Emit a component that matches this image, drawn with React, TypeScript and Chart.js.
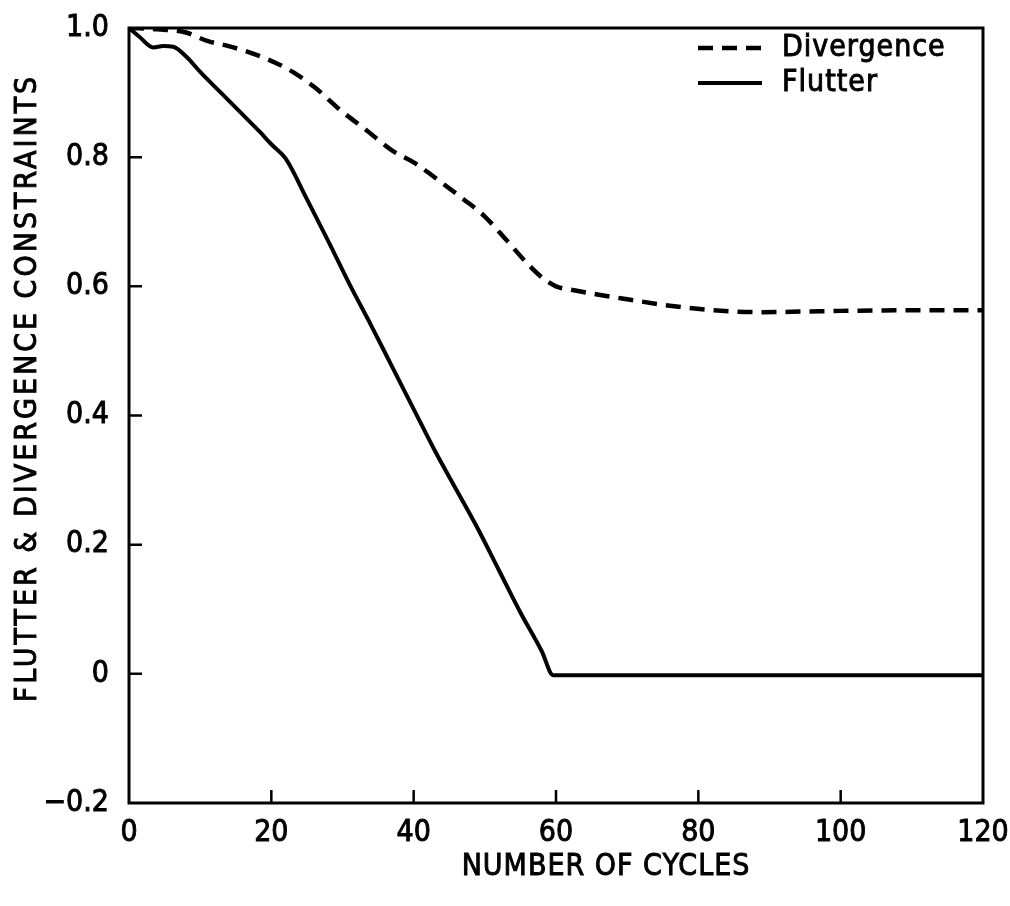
import React, { useEffect, useRef } from 'react';
import { Chart, registerables } from 'chart.js';

Chart.register(...registerables);

// ---- data ----
const divergenceCycles = [0, 4, 8, 11, 14, 17, 21, 23, 26, 30, 33, 37, 40, 44, 47, 50, 53, 56, 58, 60, 62, 66, 70, 76, 82, 89, 95, 100, 110, 120];
const divergenceValues = [1.0, 0.998, 0.993, 0.98, 0.972, 0.962, 0.944, 0.932, 0.909, 0.87, 0.845, 0.81, 0.792, 0.76, 0.735, 0.708, 0.672, 0.635, 0.614, 0.6, 0.595, 0.587, 0.58, 0.57, 0.563, 0.56, 0.561, 0.562, 0.563, 0.563];

const flutterCycles = [0, 1.5, 3.4, 4.8, 6.2, 8.1, 10, 12.8, 15.6, 18.4, 20, 22, 25, 28, 31, 34, 37, 40, 43, 46, 49, 52, 55, 58, 59.6, 80, 100, 120];
const flutterValues = [1.0, 0.986, 0.97, 0.972, 0.971, 0.955, 0.932, 0.901, 0.87, 0.839, 0.82, 0.798, 0.735, 0.67, 0.603, 0.54, 0.475, 0.41, 0.345, 0.285, 0.225, 0.16, 0.095, 0.035, -0.002, -0.002, -0.002, -0.002];

const seriesNames = ['Divergence', 'Flutter'];

const xTickValues = [0, 20, 40, 60, 80, 100, 120];
const xTickLabels = ['0', '20', '40', '60', '80', '100', '120'];
const yTickValues = [-0.2, 0, 0.2, 0.4, 0.6, 0.8, 1.0];
const yTickLabels = ['\u22120.2', '0', '0.2', '0.4', '0.6', '0.8', '1.0'];

const xTitle = 'NUMBER OF CYCLES';
const yTitle = 'FLUTTER & DIVERGENCE CONSTRAINTS';

const FONT_FAMILY = '"DejaVu Sans Condensed", "DejaVu Sans", sans-serif';
const FONT_SIZE = 30;
const TEXT_STROKE = 0.9;

function strokeFill(ctx: CanvasRenderingContext2D, text: string, x: number, y: number) {
  ctx.lineWidth = TEXT_STROKE;
  ctx.strokeStyle = '#000';
  ctx.strokeText(text, x, y);
  ctx.fillText(text, x, y);
}

const framePlugin = {
  id: 'frameAndTitles',
  afterDatasetsDraw(chart: any) {
    const { ctx, chartArea: a, scales } = chart;
    ctx.save();
    ctx.strokeStyle = '#000';
    ctx.lineWidth = 3;
    ctx.strokeRect(a.left, a.top, a.right - a.left, a.bottom - a.top);
    ctx.lineWidth = 2.5;
    ctx.beginPath();
    xTickValues.forEach((v) => {
      if (v === 0 || v === 120) return;
      const px = scales.x.getPixelForValue(v);
      ctx.moveTo(px, a.bottom);
      ctx.lineTo(px, a.bottom - 13);
    });
    yTickValues.forEach((v) => {
      if (v === -0.2 || v === 1.0) return;
      const py = scales.y.getPixelForValue(v);
      ctx.moveTo(a.left, py);
      ctx.lineTo(a.left + 13, py);
    });
    ctx.stroke();

    // axis titles
    ctx.fillStyle = '#000';
    ctx.font = `${FONT_SIZE}px ${FONT_FAMILY}`;
    ctx.textAlign = 'center';
    ctx.textBaseline = 'middle';
    (ctx as any).letterSpacing = '1px';
    strokeFill(ctx, xTitle, 606, 867);
    ctx.save();
    (ctx as any).letterSpacing = '3px';
    ctx.translate(28, 388);
    ctx.rotate(-Math.PI / 2);
    strokeFill(ctx, yTitle, 0, 0);
    ctx.restore();

    // legend
    const ds = chart.data.datasets;
    const rows = [48, 83];
    ds.forEach((d: any, i: number) => {
      const y = rows[i];
      ctx.save();
      ctx.strokeStyle = '#000';
      ctx.lineWidth = d.borderWidth;
      ctx.setLineDash(d.borderDash || []);
      ctx.beginPath();
      ctx.moveTo(698, y);
      ctx.lineTo(762, y);
      ctx.stroke();
      ctx.restore();
      ctx.textAlign = 'left';
      (ctx as any).letterSpacing = '1px';
      strokeFill(ctx, d.label, 782, y);
    });
    ctx.restore();
  },
};

export default function App() {
  const canvasRef = useRef<HTMLCanvasElement | null>(null);

  useEffect(() => {
    const canvas = canvasRef.current;
    if (!canvas) return;
    const chart = new Chart(canvas, {
      type: 'line',
      data: {
        datasets: [
          {
            label: seriesNames[0],
            data: divergenceCycles.map((c, i) => ({ x: c, y: divergenceValues[i] })),
            borderColor: '#000',
            borderWidth: 4.5,
            borderDash: [15, 9],
            pointRadius: 0,
            fill: false,
            cubicInterpolationMode: 'monotone',
          },
          {
            label: seriesNames[1],
            data: flutterCycles.map((c, i) => ({ x: c, y: flutterValues[i] })),
            borderColor: '#000',
            borderWidth: 4,
            pointRadius: 0,
            fill: false,
            cubicInterpolationMode: 'monotone',
          },
        ],
      },
      options: {
        animation: false,
        responsive: false,
        layout: { padding: { top: 28, right: 27, left: 0, bottom: 0 } },
        plugins: {
          legend: { display: false },
          tooltip: { enabled: false },
        },
        scales: {
          x: {
            type: 'linear',
            min: 0,
            max: 120,
            grid: { display: false, drawTicks: false },
            border: { display: false },
            afterBuildTicks: (s: any) => {
              s.ticks = xTickValues.map((v) => ({ value: v }));
            },
            afterFit: (s: any) => {
              s.height = 103;
              s.paddingLeft = 0;
              s.paddingRight = 0;
            },
            ticks: {
              autoSkip: false,
              maxRotation: 0,
              padding: 12,
              color: '#000',
              textStrokeColor: '#000',
              textStrokeWidth: TEXT_STROKE,
              font: { family: FONT_FAMILY, size: FONT_SIZE },
              callback: (v: any) => xTickLabels[xTickValues.indexOf(Number(v))],
            },
          },
          y: {
            type: 'linear',
            min: -0.2,
            max: 1.0,
            grid: { display: false, drawTicks: false },
            border: { display: false },
            afterBuildTicks: (s: any) => {
              s.ticks = yTickValues.map((v) => ({ value: v }));
            },
            afterFit: (s: any) => {
              s.width = 129;
              s.paddingTop = 0;
              s.paddingBottom = 0;
            },
            ticks: {
              autoSkip: false,
              padding: 20,
              color: '#000',
              textStrokeColor: '#000',
              textStrokeWidth: TEXT_STROKE,
              font: { family: FONT_FAMILY, size: FONT_SIZE },
              callback: (v: any) => {
                const idx = yTickValues.findIndex((t) => Math.abs(t - Number(v)) < 1e-9);
                return idx >= 0 ? yTickLabels[idx] : '';
              },
            },
          },
        },
      },
      plugins: [framePlugin],
    } as any);
    return () => chart.destroy();
  }, []);

  return (
    <div style={{ position: 'fixed', left: 0, top: 0, width: 1010, height: 906, background: '#fff' }}>
      <canvas ref={canvasRef} width={1010} height={906} style={{ display: 'block' }} />
    </div>
  );
}
